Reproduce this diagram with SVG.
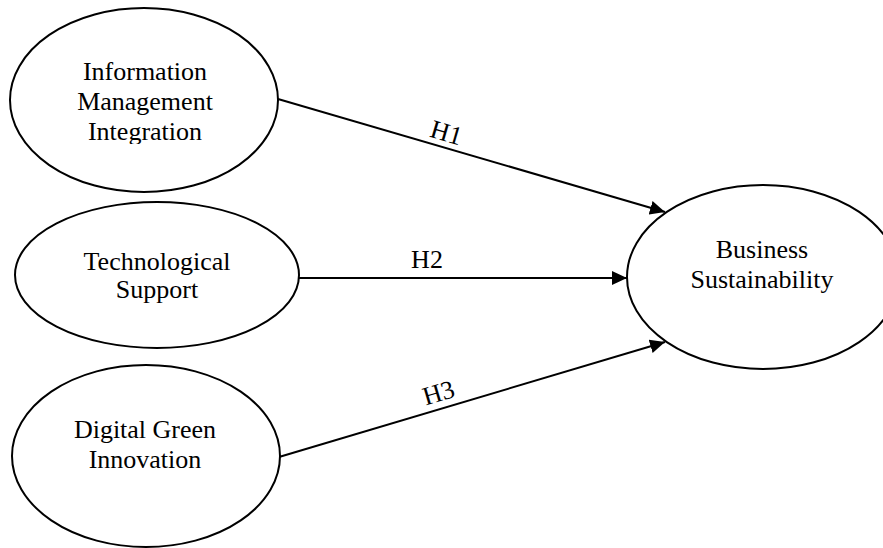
<svg xmlns="http://www.w3.org/2000/svg" width="883" height="548" viewBox="0 0 883 548">
<style>
.node ellipse{fill:#fff;stroke:#000;stroke-width:2}
text{font-family:"Liberation Serif","Times New Roman",serif;font-size:26px;fill:#000;text-anchor:middle}
.edge line{stroke:#000;stroke-width:2}
</style>
<defs>
<marker id="arr" viewBox="0 0 15 14" refX="15" refY="7" markerWidth="15" markerHeight="14" markerUnits="userSpaceOnUse" orient="auto">
<path d="M0,0 L15,7 L0,14 Z" fill="#000"/>
</marker>
<clipPath id="clip1"><rect x="0" y="0" width="300" height="144"/></clipPath>
</defs>
<rect width="883" height="548" fill="#fff"/>
<g class="edge" id="connectors">
<line x1="278" y1="99" x2="665" y2="212" marker-end="url(#arr)"/>
<line x1="298" y1="278" x2="627" y2="278" marker-end="url(#arr)"/>
<line x1="279" y1="457" x2="665" y2="342" marker-end="url(#arr)"/>
<text transform="translate(444,141) rotate(16.3)">H1</text>
<text x="427" y="268">H2</text>
<text transform="translate(441,401) rotate(-16.6)">H3</text>
</g>
<g class="node" id="imi">
<ellipse cx="144" cy="100" rx="134" ry="92"/>
<text clip-path="url(#clip1)"><tspan x="145" y="80">Information</tspan><tspan x="145" y="110">Management</tspan><tspan x="145" y="140">Integration</tspan></text>
</g>
<g class="node" id="ts">
<ellipse cx="157" cy="275" rx="142" ry="73"/>
<text><tspan x="157" y="270">Technological</tspan><tspan x="157" y="298">Support</tspan></text>
</g>
<g class="node" id="dgi">
<ellipse cx="146" cy="456" rx="134" ry="91"/>
<text><tspan x="145" y="438">Digital Green</tspan><tspan x="145" y="468">Innovation</tspan></text>
</g>
<g class="node" id="bs">
<ellipse cx="763" cy="277" rx="136" ry="92"/>
<text><tspan x="762" y="258">Business</tspan><tspan x="762" y="288">Sustainability</tspan></text>
</g>
</svg>
